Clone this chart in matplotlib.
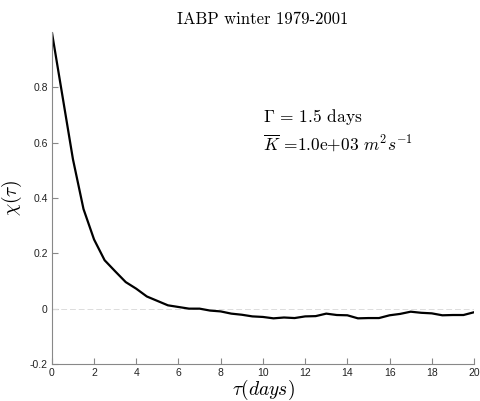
import matplotlib
matplotlib.use("Agg")
import matplotlib.pyplot as plt
import numpy as np

plt.rcParams['mathtext.fontset'] = 'cm'

tau = [0, 0.5, 1, 1.5, 2, 2.5, 3, 3.5, 4, 4.5, 5, 5.5, 6, 6.5, 7, 7.5, 8, 8.5, 9, 9.5,
       10, 10.5, 11, 11.5, 12, 12.5, 13, 13.5, 14, 14.5, 15, 15.5, 16, 16.5, 17, 17.5,
       18, 18.5, 19, 19.5, 20]
chi = [1.0, 0.77, 0.54, 0.36, 0.25, 0.175, 0.135, 0.096, 0.072, 0.044, 0.028, 0.012,
       0.006, 0.0, 0.0, -0.007, -0.01, -0.018, -0.022, -0.028, -0.03, -0.035, -0.032,
       -0.034, -0.028, -0.027, -0.018, -0.023, -0.024, -0.035, -0.034, -0.034, -0.024,
       -0.019, -0.011, -0.015, -0.017, -0.024, -0.023, -0.023, -0.013]
xticks = [0, 2, 4, 6, 8, 10, 12, 14, 16, 18, 20]
yticks = [-0.2, 0, 0.2, 0.4, 0.6, 0.8]
yticklabels = ['-0.2', '0', '0.2', '0.4', '0.6', '0.8']
title = 'IABP winter 1979-2001'
gamma_txt = r'$\Gamma$ = 1.5 days'
k_txt = r'$\overline{K}$ =1.0e+03 $m^2s^{-1}$'

fig = plt.figure(figsize=(4.8, 4.01), dpi=100)
ax = fig.add_axes([0.108, 0.0923, 0.8795, 0.828])

ax.plot([0, 20], [0, 0], linestyle=(0, (6, 3)), color='#dcdcdc', linewidth=0.7)
ax.plot(tau, chi, color='black', linewidth=1.6)

ax.set_xlim(0, 20)
ax.set_ylim(-0.2, 1.0)
ax.set_xticks(xticks)
ax.set_xticklabels([str(t) for t in xticks])
ax.set_yticks(yticks)
ax.set_yticklabels(yticklabels)

for s in ['top', 'right']:
    ax.spines[s].set_visible(False)
for s in ['left', 'bottom']:
    ax.spines[s].set_color('#888888')
    ax.spines[s].set_linewidth(0.8)
ax.tick_params(direction='in', length=4, width=0.8, color='#888888',
               labelsize=7.5, labelcolor='#222222', pad=3)
for lab in ax.get_xticklabels() + ax.get_yticklabels():
    lab.set_fontfamily('Liberation Sans')

ax.set_title(title, fontfamily='cmr10', fontsize=12, pad=6)
ax.set_xlabel(r'$\tau(days)$', fontsize=14, labelpad=0)
ax.set_ylabel(r'$\chi(\tau)$', fontsize=14, labelpad=4)

ax.text(0.5, 0.73, gamma_txt, transform=ax.transAxes, fontfamily='cmr10', fontsize=12.5)
ax.text(0.5, 0.645, k_txt, transform=ax.transAxes, fontfamily='cmr10', fontsize=12.5)

fig.savefig('out.png', dpi=100)
